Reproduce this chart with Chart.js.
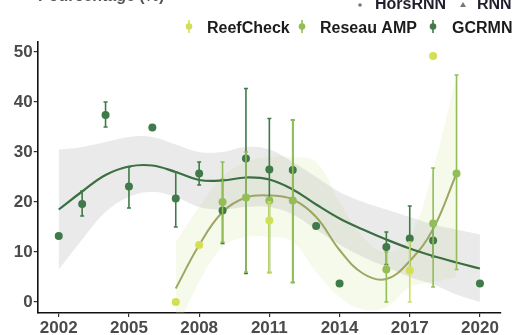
<!DOCTYPE html>
<html>
<head>
<meta charset="utf-8">
<script src="https://cdn.jsdelivr.net/npm/chart.js@4/dist/chart.umd.min.js"></script>
<style>
  html, body { margin: 0; padding: 0; background: #fff; }
  #wrap { width: 512px; height: 335px; }
</style>
</head>
<body>
<div id="wrap"><canvas id="c" width="512" height="335"></canvas></div>
<script>
// Axis ticks
const yearTicks = [2002, 2005, 2008, 2011, 2014, 2017, 2020];
const valueTicks = [0, 10, 20, 30, 40, 50];

// GCRMN observations (mean with low/high bounds)
const gcrmnYears = [2002, 2003, 2004, 2005, 2006, 2007, 2008, 2009, 2010, 2011, 2012, 2013, 2014, 2016, 2017, 2018, 2020];
const gcrmnMean  = [13.2, 19.6, 37.4, 23.1, 34.9, 20.7, 25.7, 18.3, 28.7, 26.5, 26.4, 15.2, 3.7, 11.0, 12.7, 12.3, 3.7];
const gcrmnLow   = [null, 17.2, 35.0, 18.8, null, 15.0, 23.4, 11.7, 5.7, 5.9, 3.9, null, null, 7.5, 6.4, 9.0, null];
const gcrmnHigh  = [null, 22.2, 40.0, 27.0, null, 26.0, 28.0, 24.5, 42.7, 36.7, 36.4, null, null, 14.0, 19.2, 16.0, null];

// Reseau AMP observations
const ampYears = [2009, 2010, 2011, 2012, 2016, 2018, 2019];
const ampMean  = [20.0, 20.9, 20.3, 20.3, 6.5, 15.7, 25.7];
const ampLow   = [12.0, 6.0, 5.9, 3.9, 0.0, 3.0, 6.5];
const ampHigh  = [28.0, 30.0, 20.3, 36.4, 10.0, 26.8, 45.4];

// ReefCheck observations
const rcYears = [2007, 2008, 2011, 2017, 2018];
const rcMean  = [0.0, 11.4, 16.3, 6.3, 49.2];
const rcLow   = [null, null, 6.0, 0.0, null];
const rcHigh  = [null, null, 20.0, 12.0, null];

// Smoothed GCRMN trend and its confidence band
const gcrmnSmoothYears = [2002, 2003, 2004, 2005, 2006, 2007, 2008, 2009, 2010, 2011, 2012, 2013, 2014, 2015, 2016, 2017, 2018, 2019, 2020];
const gcrmnSmooth      = [18.5, 22.1, 25.4, 27.1, 27.3, 26.0, 24.4, 24.3, 24.9, 24.5, 22.5, 19.5, 16.7, 14.5, 12.5, 10.7, 9.2, 7.9, 6.7];
const gcrmnBandHigh    = [30.5, 31.0, 32.0, 33.0, 33.0, 31.5, 30.0, 30.0, 31.0, 30.5, 28.0, 25.0, 22.0, 20.0, 18.5, 17.0, 15.5, 14.5, 13.5];
const gcrmnBandLow     = [6.5, 12.5, 18.0, 21.0, 22.0, 21.0, 19.0, 18.5, 19.0, 19.0, 17.5, 14.5, 11.5, 9.0, 7.0, 5.0, 3.5, 1.5, 0.0];

// Smoothed Reseau AMP trend and its confidence band
const ampSmoothYears = [2007, 2008, 2009, 2010, 2011, 2012, 2013, 2014, 2015, 2016, 2017, 2018, 2019];
const ampSmooth      = [2.7, 11.4, 18.0, 20.9, 21.3, 20.5, 17.0, 10.4, 5.7, 4.6, 8.2, 14.6, 25.7];
const ampBandHigh    = [12.0, 19.0, 25.0, 28.0, 29.0, 29.0, 28.0, 20.0, 13.0, 10.0, 13.0, 26.5, 45.4];
const ampBandLow     = [-6.0, 4.0, 11.0, 13.0, 13.0, 12.0, 6.0, 1.0, -1.5, -1.0, 3.0, 4.0, 5.0];

const COL_RC = '#d3df55';
const COL_AMP = '#93bd57';
const COL_GC = '#3f7a48';
const COL_AMP_LINE = '#9ea663';
const COL_GC_LINE = '#3a6f41';

const pts = (xs, ys) => xs.map((x, i) => ({ x: x, y: ys[i] }));

const errorBars = {
  0: { years: rcYears, low: rcLow, high: rcHigh, color: COL_RC },
  1: { years: ampYears, low: ampLow, high: ampHigh, color: COL_AMP },
  2: { years: gcrmnYears, low: gcrmnLow, high: gcrmnHigh, color: COL_GC }
};

// Draws the vertical error bars just before each point dataset
const errorBarPlugin = {
  id: 'errorBars',
  beforeDatasetDraw(chart, args) {
    const eb = errorBars[args.index];
    if (!eb) return;
    const xs = chart.scales.x, ys = chart.scales.y, ctx = chart.ctx;
    ctx.save();
    ctx.beginPath();
    ctx.rect(chart.chartArea.left, chart.chartArea.top, chart.chartArea.right - chart.chartArea.left, chart.chartArea.bottom - chart.chartArea.top);
    ctx.clip();
    ctx.strokeStyle = eb.color;
    ctx.lineWidth = 1.6;
    eb.years.forEach((yr, i) => {
      if (eb.low[i] == null || eb.high[i] == null) return;
      const px = xs.getPixelForValue(yr);
      const p1 = ys.getPixelForValue(eb.low[i]);
      const p2 = ys.getPixelForValue(eb.high[i]);
      ctx.beginPath();
      ctx.moveTo(px, p1); ctx.lineTo(px, p2);
      ctx.moveTo(px - 2, p1); ctx.lineTo(px + 2, p1);
      ctx.moveTo(px - 2, p2); ctx.lineTo(px + 2, p2);
      ctx.stroke();
    });
    ctx.restore();
  }
};

// Heading and legends drawn above the panel
const headerPlugin = {
  id: 'header',
  afterDraw(chart) {
    const ctx = chart.ctx;
    ctx.save();
    ctx.textBaseline = 'alphabetic';
    ctx.textAlign = 'left';
    ctx.fillStyle = '#555';
    ctx.font = 'bold 16px "Liberation Sans", Arial, sans-serif';
    ctx.fillText('Pourcentage (%)', 38, 0.5);

    // shape legend
    ctx.fillStyle = '#1f1f2e';
    ctx.font = 'bold 16px "Liberation Sans", Arial, sans-serif';
    ctx.fillText('HorsRNN', 375, 9);
    ctx.fillText('RNN', 477, 9);
    ctx.fillStyle = '#777';
    ctx.beginPath(); ctx.arc(360, 5, 1.8, 0, Math.PI * 2); ctx.fill();
    ctx.beginPath(); ctx.moveTo(463, 2); ctx.lineTo(466, 7); ctx.lineTo(460, 7); ctx.closePath(); ctx.fill();

    // source legend
    const items = [
      { label: 'ReefCheck', color: COL_RC, gx: 189, tx: 207 },
      { label: 'Reseau AMP', color: COL_AMP, gx: 302, tx: 320 },
      { label: 'GCRMN', color: COL_GC, gx: 433, tx: 452 }
    ];
    items.forEach(it => {
      ctx.strokeStyle = it.color;
      ctx.fillStyle = it.color;
      ctx.lineWidth = 1.6;
      ctx.beginPath(); ctx.moveTo(it.gx, 20); ctx.lineTo(it.gx, 33); ctx.stroke();
      ctx.beginPath(); ctx.arc(it.gx, 26.5, 3.3, 0, Math.PI * 2); ctx.fill();
      ctx.fillStyle = '#1c1c1c';
      ctx.fillText(it.label, it.tx, 32.5);
    });
    ctx.restore();
  }
};

const tickFont = { family: '"Liberation Sans", Arial, sans-serif', size: 17, weight: 'bold' };

new Chart(document.getElementById('c'), {
  type: 'line',
  data: {
    datasets: [
      { label: 'ReefCheck', data: pts(rcYears, rcMean), showLine: false, pointRadius: 4, pointBackgroundColor: COL_RC, pointBorderColor: COL_RC, pointBorderWidth: 0 },
      { label: 'Reseau AMP', data: pts(ampYears, ampMean), showLine: false, pointRadius: 4, pointBackgroundColor: COL_AMP, pointBorderColor: COL_AMP, pointBorderWidth: 0 },
      { label: 'GCRMN', data: pts(gcrmnYears, gcrmnMean), showLine: false, pointRadius: 4, pointBackgroundColor: COL_GC, pointBorderColor: COL_GC, pointBorderWidth: 0 },
      { label: 'GCRMN trend', data: pts(gcrmnSmoothYears, gcrmnSmooth), borderColor: COL_GC_LINE, borderWidth: 2.2, pointRadius: 0, tension: 0.4, fill: false },
      { label: 'AMP trend', data: pts(ampSmoothYears, ampSmooth), borderColor: COL_AMP_LINE, borderWidth: 2.0, pointRadius: 0, tension: 0.4, fill: false },
      { label: 'GCRMN band high', data: pts(gcrmnSmoothYears, gcrmnBandHigh), borderWidth: 0, pointRadius: 0, tension: 0.4, fill: '+1', backgroundColor: 'rgba(190,190,190,0.32)' },
      { label: 'GCRMN band low', data: pts(gcrmnSmoothYears, gcrmnBandLow), borderWidth: 0, pointRadius: 0, tension: 0.4, fill: false },
      { label: 'AMP band high', data: pts(ampSmoothYears, ampBandHigh), borderWidth: 0, pointRadius: 0, tension: 0.4, fill: '+1', backgroundColor: 'rgba(210,230,160,0.22)' },
      { label: 'AMP band low', data: pts(ampSmoothYears, ampBandLow), borderWidth: 0, pointRadius: 0, tension: 0.4, fill: false }
    ]
  },
  options: {
    responsive: false,
    animation: false,
    layout: { padding: { top: 42, right: 11, left: 0, bottom: 0 } },
    plugins: { legend: { display: false }, tooltip: { enabled: false } },
    scales: {
      x: {
        type: 'linear', min: 2001.1, max: 2020.9,
        afterBuildTicks: s => { s.ticks = yearTicks.map(v => ({ value: v })); },
        afterFit: s => { s.height = 22; },
        ticks: { font: tickFont, color: '#4a4a4a', padding: 1, maxRotation: 0, autoSkip: false, callback: v => String(v) },
        grid: { drawOnChartArea: false, tickLength: 4, color: '#333', lineWidth: 1.2 },
        border: { display: true, color: '#111', width: 1.6 }
      },
      y: {
        min: -2.2, max: 52,
        afterBuildTicks: s => { s.ticks = valueTicks.map(v => ({ value: v })); },
        afterFit: s => { s.width = 37.7; },
        ticks: { font: tickFont, color: '#4a4a4a', padding: 1, callback: v => String(v) },
        grid: { drawOnChartArea: false, tickLength: 4, color: '#333', lineWidth: 1.2 },
        border: { display: true, color: '#111', width: 1.6 }
      }
    }
  },
  plugins: [errorBarPlugin, headerPlugin]
});
</script>
</body>
</html>
